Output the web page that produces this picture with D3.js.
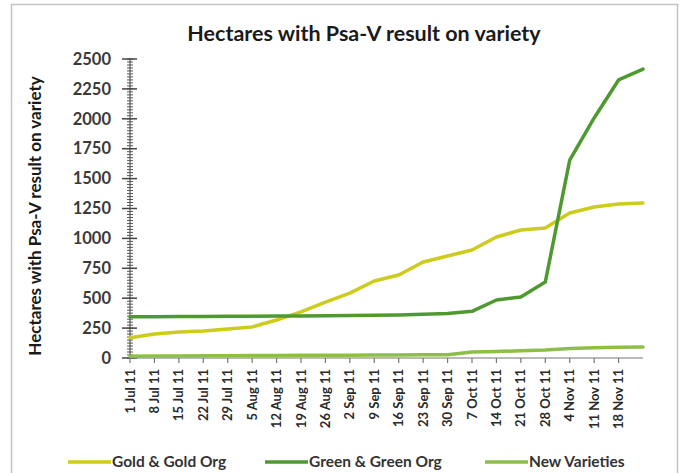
<!DOCTYPE html>
<html>
<head>
<meta charset="utf-8">
<script src="https://cdn.jsdelivr.net/npm/d3@7"></script>
<style>
  body { margin: 0; background: #fff; }
  svg { display: block; }
  text { font-family: Lato, "Open Sans", sans-serif; }
</style>
</head>
<body>
<script>
// weekly reporting dates
var dates = ["2011-07-01","2011-07-08","2011-07-15","2011-07-22","2011-07-29","2011-08-05",
  "2011-08-12","2011-08-19","2011-08-26","2011-09-02","2011-09-09","2011-09-16","2011-09-23",
  "2011-09-30","2011-10-07","2011-10-14","2011-10-21","2011-10-28","2011-11-04","2011-11-11",
  "2011-11-18","2011-11-25"];

var gold = [170, 200, 217, 225, 242, 260, 318, 385, 468, 543, 644, 694, 803, 853, 903,
  1012, 1070, 1087, 1212, 1263, 1288, 1296];
var green = [345, 345, 347, 348, 349, 350, 351, 352, 354, 356, 358, 360, 365, 372, 390,
  485, 510, 635, 1655, 2007, 2325, 2416];
var newVar = [15, 16, 17, 18, 19, 20, 21, 22, 23, 24, 25, 26, 27, 28, 50,
  55, 60, 67, 80, 85, 90, 92];

var seriesNames = ["Gold & Gold Org", "Green & Green Org", "New Varieties"];
var yTicks = [0, 250, 500, 750, 1000, 1250, 1500, 1750, 2000, 2250, 2500];

var width = 688, height = 473;
var parse = d3.utcParse("%Y-%m-%d");
var dts = dates.map(parse);

var svg = d3.select("body").append("svg")
    .attr("width", width)
    .attr("height", height);

// outer frame
svg.append("rect")
    .attr("x", 11.5).attr("y", 4.5)
    .attr("width", 666).attr("height", 480)
    .attr("fill", "none")
    .attr("stroke", "#c4c4c4")
    .attr("stroke-width", 1.5);

var x = d3.scaleUtc()
    .domain([dts[0], dts[dts.length - 1]])
    .range([130, 643]);
var y = d3.scaleLinear()
    .domain([0, 2500])
    .range([358, 59]);

var c = d3.scaleOrdinal()
    .domain(seriesNames)
    .range(["#cccc1c", "#4f9a30", "#8dbf48"]);

// title
svg.append("text")
    .attr("x", 364).attr("y", 41)
    .attr("text-anchor", "middle")
    .style("font-size", "21.5px")
    .style("font-weight", "bold")
    .style("fill", "#1a1a1a")
    .text("Hectares with Psa-V result on variety");

// y axis title
svg.append("text")
    .attr("transform", "translate(41,216) rotate(-90)")
    .attr("text-anchor", "middle")
    .style("font-size", "17px")
    .style("font-weight", "bold")
    .style("fill", "#1a1a1a")
    .text("Hectares with Psa-V result on variety");

// y axis
var yg = svg.append("g");
yg.append("line")
    .attr("x1", 130).attr("x2", 130)
    .attr("y1", y(0)).attr("y2", y(2500))
    .attr("stroke", "#555").attr("stroke-width", 1.2);
yg.selectAll(".minor")
    .data(d3.range(0, 2501, 25))
    .enter().append("line")
    .attr("x1", 127).attr("x2", 133)
    .attr("y1", d => y(d)).attr("y2", d => y(d))
    .attr("stroke", "#555").attr("stroke-width", 1);
yg.selectAll(".major")
    .data(yTicks)
    .enter().append("line")
    .attr("x1", 122).attr("x2", 137)
    .attr("y1", d => y(d)).attr("y2", d => y(d))
    .attr("stroke", "#444").attr("stroke-width", 1.5);
yg.selectAll("text")
    .data(yTicks)
    .enter().append("text")
    .attr("x", 111)
    .attr("y", d => y(d))
    .attr("dy", "0.35em")
    .attr("text-anchor", "end")
    .style("font-size", "16.5px")
    .style("font-weight", "bold")
    .style("fill", "#3a3a3a")
    .text(d => d);

// x axis
var xTicks = dts.slice(0, dts.length - 1);
var fmt = d3.utcFormat("%-d %b %y");
var xg = svg.append("g");
xg.append("line")
    .attr("x1", 130).attr("x2", 643)
    .attr("y1", 358).attr("y2", 358)
    .attr("stroke", "#777").attr("stroke-width", 1.2);
xg.selectAll(".tick")
    .data(xTicks)
    .enter().append("line")
    .attr("x1", d => x(d)).attr("x2", d => x(d))
    .attr("y1", 358).attr("y2", 363)
    .attr("stroke", "#777").attr("stroke-width", 1.2);
xg.selectAll("text")
    .data(xTicks)
    .enter().append("text")
    .attr("transform", d => "translate(" + (x(d) + 4.5) + ",369) rotate(-90)")
    .attr("text-anchor", "end")
    .style("font-size", "13px")
    .style("font-weight", "bold")
    .style("fill", "#2a2a2a")
    .text(d => fmt(d));

// lines
var series = [gold, green, newVar];
var line = d3.line()
    .x((d, i) => x(dts[i]))
    .y(d => y(d));

svg.append("g").selectAll("path")
    .data(series)
    .enter().append("path")
    .attr("d", d => line(d))
    .attr("fill", "none")
    .attr("stroke", (d, i) => c(seriesNames[i]))
    .attr("stroke-width", 3.5)
    .attr("stroke-linejoin", "round")
    .attr("stroke-linecap", "round");

// legend
var legendX = [68, 265, 485];
var lg = svg.append("g").selectAll("g")
    .data(seriesNames)
    .enter().append("g")
    .attr("transform", (d, i) => "translate(" + legendX[i] + ",462)");
lg.append("line")
    .attr("x1", 0).attr("x2", 43)
    .attr("y1", 0).attr("y2", 0)
    .attr("stroke", d => c(d))
    .attr("stroke-width", 3.5);
lg.append("text")
    .attr("x", 44)
    .attr("dy", "0.35em")
    .style("font-size", "15.5px")
    .style("font-weight", "bold")
    .style("fill", "#333")
    .text(d => d);
</script>
</body>
</html>
